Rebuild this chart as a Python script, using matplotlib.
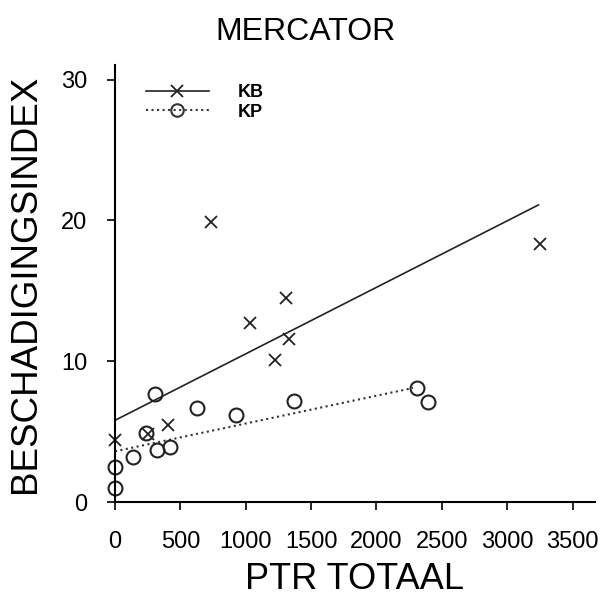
import numpy as np
import matplotlib.pyplot as plt

plt.rcParams['font.family'] = ['Liberation Sans', 'DejaVu Sans']

# KB: PTR totaal vs beschadigingsindex
kb_ptr = [0, 250, 405, 735, 1033, 1224, 1308, 1331, 3252]
kb_idx = [4.4, 4.8, 5.5, 19.9, 12.7, 10.1, 14.5, 11.6, 18.3]

# KP: PTR totaal vs beschadigingsindex
kp_ptr = [0, 0, 138, 237, 306, 321, 421, 627, 926, 1370, 2311, 2395]
kp_idx = [1.0, 2.5, 3.2, 4.9, 7.7, 3.7, 3.9, 6.7, 6.2, 7.2, 8.1, 7.1]

# regression line end points
kb_fit_x = [0, 3240]
kb_fit_y = [5.8, 21.1]
kp_fit_x = [0, 2280]
kp_fit_y = [3.6, 8.1]

xticks = [0, 500, 1000, 1500, 2000, 2500, 3000, 3500]
yticks = [0, 10, 20, 30]

fig = plt.figure(figsize=(6.1, 5.98), dpi=100)
ax = fig.add_axes([0.1885, 0.1605, 0.7865, 0.730])

ax.plot(kb_fit_x, kb_fit_y, '-', color='#222222', lw=1.2)
ax.plot(kp_fit_x, kp_fit_y, ':', color='#333333', lw=1.5)
ax.plot(kb_ptr, kb_idx, 'x', color='#222222', ms=9, mew=1.3, clip_on=False)
ax.plot(kp_ptr, kp_idx, 'o', mfc='none', mec='#222222', ms=10, mew=1.5, clip_on=False)

# legend entries
ax.plot([], [], '-x', color='#222222', lw=1.2, ms=9, mew=1.3, label='KB')
ax.plot([], [], ':o', color='#333333', mfc='none', lw=1.5, ms=9, mew=1.5, label='KP')
handles, labels = ax.get_legend_handles_labels()
leg = ax.legend(handles[-2:], labels[-2:], loc='upper left', frameon=False,
                handlelength=3.5, fontsize=13, bbox_to_anchor=(0.03, 0.995),
                labelspacing=0.15, handletextpad=1.6)
for t in leg.get_texts():
    t.set_fontweight('bold')

ax.set_xlim(0, 3670)
ax.set_ylim(0, 31)
ax.set_xticks(xticks)
ax.set_yticks(yticks)
ax.spines['top'].set_visible(False)
ax.spines['right'].set_visible(False)
for s in ('left', 'bottom'):
    ax.spines[s].set_linewidth(1.5)
ax.tick_params(direction='out', length=6, width=1.2, labelsize=17)
ax.tick_params(axis='x', pad=15)
ax.tick_params(axis='y', pad=14)

ax.set_xlabel('PTR TOTAAL', fontsize=26, labelpad=6)
ax.set_ylabel('BESCHADIGINGSINDEX', fontsize=26.5, labelpad=13)
fig.text(0.5, 0.946, 'MERCATOR', fontsize=23, ha='center', va='center')

fig.savefig('out.png', dpi=100)
